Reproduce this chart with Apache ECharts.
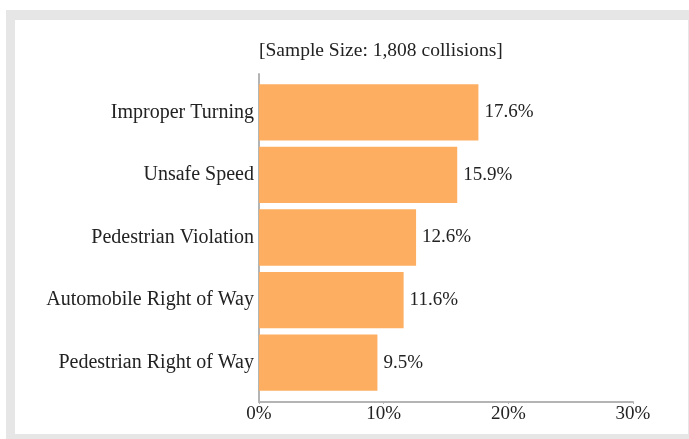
<!DOCTYPE html>
<html>
<head>
<meta charset="utf-8">
<script src="https://cdn.jsdelivr.net/npm/echarts@6/dist/echarts.min.js"></script>
<style>
  body { margin: 0; background: #fff; }
  #frame { position: absolute; left: 6px; top: 10px; width: 683px; height: 429px; background: #e6e6e6; }
  #inner { position: absolute; left: 15px; top: 20px; width: 673px; height: 414px; background: #fff; }
  #main { position: absolute; left: 0; top: 0; width: 689px; height: 439px; }
</style>
</head>
<body>
<div id="frame"></div>
<div id="inner"></div>
<div id="main"></div>
<script>
// collision causes, share of total (%)
const causes = ['Improper Turning', 'Unsafe Speed', 'Pedestrian Violation', 'Automobile Right of Way', 'Pedestrian Right of Way'];
const shares = [17.6, 15.9, 12.6, 11.6, 9.5];
const xTicks = [0, 10, 20, 30];

const font = 'Liberation Serif';
const ink = '#222';

const mychart = echarts.init(document.getElementById('main'));
const option = {
    animation: false,
    title: {
        text: '[Sample Size: 1,808 collisions]',
        left: 254, top: 36,
        textStyle: {fontFamily: font, fontSize: 19.5, fontWeight: 'normal', color: ink}
    },
    grid: [
        {left: 259, right: 56, top: 81, bottom: 45},   // bars
        {left: 259, right: 56, top: 74, bottom: 37}    // axis lines
    ],
    xAxis: [
        {gridIndex: 0, type: 'value', min: 0, max: xTicks[xTicks.length - 1], show: false},
        {
            gridIndex: 1, type: 'value', min: xTicks[0], max: xTicks[xTicks.length - 1], interval: 10,
            splitLine: {show: false},
            axisLine: {show: true, lineStyle: {color: '#b4b4b4', width: 2}},
            axisTick: {show: true, length: 2, lineStyle: {color: '#b4b4b4'}},
            axisLabel: {formatter: '{value}%', margin: 3, fontFamily: font, fontSize: 19, color: ink}
        }
    ],
    yAxis: [
        {
            gridIndex: 0, type: 'category', data: causes, inverse: true,
            axisLine: {show: false}, axisTick: {show: false},
            axisLabel: {margin: 5, fontFamily: font, fontSize: 20, color: ink}
        },
        {
            gridIndex: 1, type: 'category', data: causes, inverse: true,
            axisLine: {show: true, lineStyle: {color: '#b4b4b4', width: 2}},
            axisTick: {show: false}, axisLabel: {show: false}
        }
    ],
    series: [{
        type: 'bar',
        xAxisIndex: 0, yAxisIndex: 0,
        data: shares,
        barCategoryGap: '10%',
        itemStyle: {color: '#fdae61'},
        label: {
            show: true, position: 'right', distance: 6,
            formatter: p => p.value + '%',
            fontFamily: font, fontSize: 19, color: ink
        }
    }]
};
mychart.setOption(option);
</script>
</body>
</html>
